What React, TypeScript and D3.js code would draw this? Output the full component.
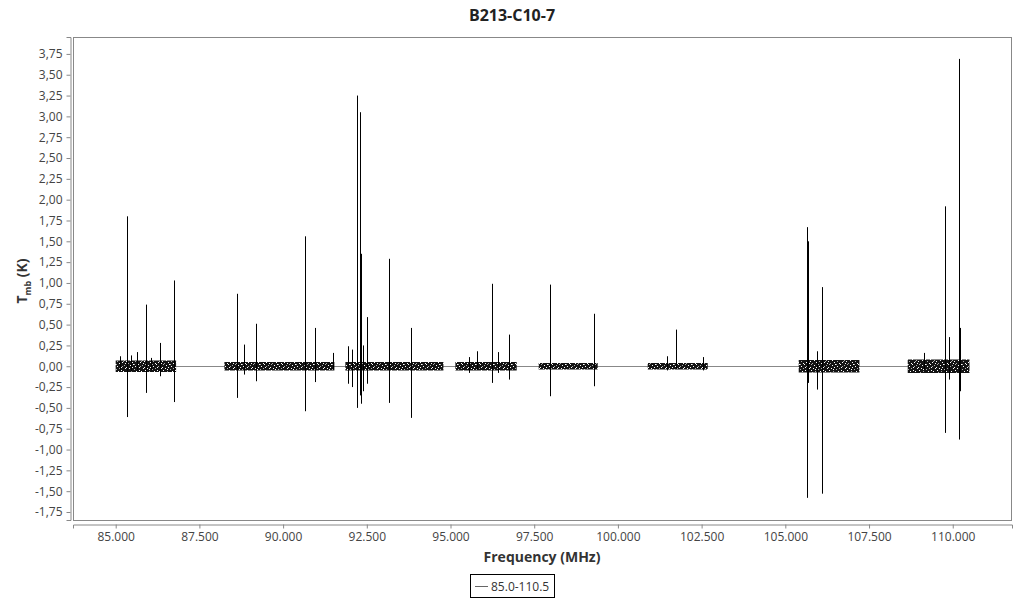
import React, { useEffect, useRef } from 'react';
import * as d3 from 'd3';

// Observed spectral windows (MHz) and their rms noise level (K)
const segStart = [85000, 88247, 91860, 95146, 97634, 100890, 105400, 108656];
const segEnd = [86804, 91532, 94788, 96977, 99396, 102682, 107213, 110500];
const segNoise = [0.07, 0.05, 0.05, 0.05, 0.04, 0.04, 0.075, 0.08];

// Spectral lines: frequency (MHz), peak and trough (K)
const lineFreq = [
  85140, 85329, 85460, 85639, 85896, 86045, 86314, 86744,
  88614, 88844, 89182, 90645, 90965, 91482,
  91941, 92070, 92198, 92300, 92339, 92400, 92518, 93166, 93832,
  95544, 95783, 96231, 96410, 96738,
  97975, 99277,
  101458, 101726, 102533,
  105660, 105690, 105950, 106087,
  109154, 109772, 109880, 110199, 110229,
];
const linePeak = [
  0.12, 1.8, 0.13, 0.17, 0.74, 0.1, 0.28, 1.03,
  0.87, 0.26, 0.51, 1.56, 0.46, 0.16,
  0.24, 0.2, 3.25, 3.05, 1.35, 0.25, 0.59, 1.29, 0.46,
  0.11, 0.18, 0.99, 0.17, 0.38,
  0.98, 0.63,
  0.12, 0.44, 0.11,
  1.67, 1.5, 0.18, 0.95,
  0.16, 1.92, 0.35, 3.69, 0.46,
];
const lineTrough = [
  -0.04, -0.61, -0.06, -0.05, -0.32, -0.05, -0.12, -0.43,
  -0.38, -0.1, -0.18, -0.54, -0.19, -0.04,
  -0.21, -0.25, -0.5, -0.35, -0.45, -0.3, -0.21, -0.44, -0.62,
  -0.08, -0.04, -0.2, -0.08, -0.16,
  -0.36, -0.24,
  -0.05, -0.03, -0.05,
  -1.58, -0.2, -0.28, -1.53,
  -0.04, -0.8, -0.16, -0.88, -0.3,
];

const xTicks = [85000, 87500, 90000, 92500, 95000, 97500, 100000, 102500, 105000, 107500, 110000];
const yTicks = [-1.75, -1.5, -1.25, -1, -0.75, -0.5, -0.25, 0, 0.25, 0.5, 0.75, 1, 1.25, 1.5, 1.75, 2, 2.25, 2.5, 2.75, 3, 3.25, 3.5, 3.75];

const title = 'B213-C10-7';
const xTitle = 'Frequency (MHz)';
const legendLabel = '85.0-110.5';

const W = 1024;
const H = 600;
const left = 73;
const right = 1012;
const top = 37;
const bottom = 520;
const FONT = '"Open Sans", "Noto Sans", sans-serif';

// speckle texture for the noise band (pure styling)
const speckle: [number, number][] = [
  [1, 0], [7, 0], [12, 0], [16, 1], [4, 1], [9, 2], [14, 2], [0, 3], [6, 3],
  [11, 4], [3, 4], [17, 4], [8, 5], [13, 6], [1, 6], [5, 7], [15, 7], [10, 7],
  [2, 8], [7, 9], [12, 9], [16, 10], [4, 10], [0, 11], [9, 11], [14, 12],
  [6, 12], [2, 13], [11, 13], [17, 13], [8, 0], [13, 3], [5, 5], [15, 11],
];

const locale = d3.formatLocale({ decimal: ',', thousands: '.', grouping: [3], currency: ['', ''], minus: '-' });
const fmtX = locale.format(',');
const fmtY = locale.format('.2f');

export default function App() {
  const xRef = useRef<SVGGElement>(null);
  const yRef = useRef<SVGGElement>(null);

  const xs = d3.scaleLinear().domain([83725, 111770]).range([left, right]);
  const ys = d3.scaleLinear().domain([-1.846, 3.953]).range([bottom, top]);

  useEffect(() => {
    const gx = d3.select(xRef.current!);
    gx.call(d3.axisBottom(xs).tickValues(xTicks).tickFormat((d: any) => fmtX(d)).tickSizeOuter(0).tickSize(4).tickPadding(4) as any);
    gx.select('.domain').attr('stroke', '#888');
    gx.selectAll('.tick line').attr('stroke', '#888');
    gx.selectAll('.tick text').attr('fill', '#444').attr('font-size', 12).attr('font-family', FONT);

    const gy = d3.select(yRef.current!);
    gy.call(d3.axisLeft(ys).tickValues(yTicks).tickFormat((d: any) => fmtY(d)).tickSizeOuter(0).tickSize(4).tickPadding(4) as any);
    gy.select('.domain').attr('stroke', '#888');
    gy.selectAll('.tick line').attr('stroke', '#888');
    gy.selectAll('.tick text').attr('fill', '#444').attr('font-size', 12).attr('font-family', FONT);
  }, []);

  const line = d3.line<[number, number]>().x((d) => xs(d[0])).y((d) => Math.round(ys(d[1])) + 0.5);
  const connector = line([[segStart[0], 0], [segEnd[segEnd.length - 1], 0]]) || '';

  const bandArea = d3
    .area<[number, number]>()
    .x((d) => xs(d[0]))
    .y0((d) => ys(-d[1]))
    .y1((d) => ys(d[1]));

  return (
    <svg width={W} height={H} style={{ position: 'absolute', left: 0, top: 0, display: 'block', background: '#fff' }}>
      <defs>
        <pattern id="noise" patternUnits="userSpaceOnUse" width={18} height={14}>
          <rect x={0} y={0} width={18} height={14} fill="#141414" />
          {speckle.map(([px, py], i) => (
            <rect key={i} x={px} y={py} width={1} height={1} fill={i % 3 === 0 ? '#aaa' : '#fff'} />
          ))}
        </pattern>
        <clipPath id="plotClip">
          <rect x={left} y={top} width={right - left} height={bottom - top} />
        </clipPath>
      </defs>

      <text x={512} y={21} textAnchor="middle" fontFamily={FONT} fontWeight="bold" fontSize={16} fill="#222">
        {title}
      </text>

      <rect x={left + 0.5} y={top + 0.5} width={right - left - 1} height={bottom - top} fill="none" stroke="#888" />

      <g clipPath="url(#plotClip)">
        <path d={connector} fill="none" stroke="#888" strokeWidth={1} />
        {segStart.map((s, i) => (
          <path
            key={'b' + i}
            d={bandArea([[s, segNoise[i]], [segEnd[i], segNoise[i]]]) || ''}
            fill="url(#noise)"
          />
        ))}
        {lineFreq.map((f, i) => {
          const x = Math.round(xs(f)) + 0.5;
          return (
            <line
              key={'l' + i}
              x1={x}
              x2={x}
              y1={ys(linePeak[i])}
              y2={ys(lineTrough[i])}
              stroke="#000"
              strokeWidth={1}
            />
          );
        })}
      </g>

      <g ref={yRef} transform="translate(70.5,0)" />
      <g ref={xRef} transform="translate(0,524.5)" />

      <text
        transform="translate(27,281) rotate(-90)"
        textAnchor="middle"
        fontFamily={FONT}
        fontWeight="bold"
        fontSize={14}
        fill="#333"
      >
        T<tspan fontSize={9} dy={4}>mb</tspan>
        <tspan dy={-4}> (K)</tspan>
      </text>

      <text x={542} y={562} textAnchor="middle" fontFamily={FONT} fontWeight="bold" fontSize={14} fill="#333">
        {xTitle}
      </text>

      <g>
        <rect x={470.5} y={574.5} width={84} height={23} fill="#fff" stroke="#000" />
        <line x1={475} x2={488} y1={586.5} y2={586.5} stroke="#666" />
        <text x={491} y={591} fontFamily={FONT} fontSize={12} fill="#333">
          {legendLabel}
        </text>
      </g>
    </svg>
  );
}
